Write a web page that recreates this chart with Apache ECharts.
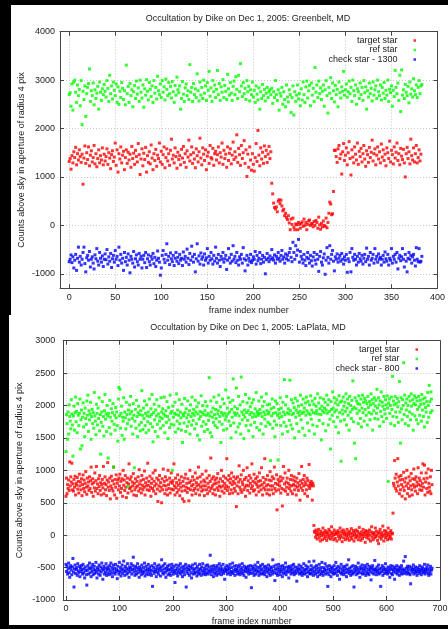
<!DOCTYPE html>
<html lang="en">
  <head>
    <meta charset="utf-8" />
    <title>Occultation by Dike</title>
    <script src="https://cdn.jsdelivr.net/npm/echarts@6/dist/echarts.min.js"></script>
    <style>
      html, body { margin: 0; padding: 0; background: #000; }
      body { width: 448px; height: 629px; position: relative; overflow: hidden; }
      .panel { position: absolute; background: #fff; }
      #top { left: 11px; top: 5px; width: 437px; height: 310px; }
      #bottom { left: 9px; top: 315px; width: 439px; height: 310px; }
    </style>
  </head>
  <body>
    <div id="top" class="panel"></div>
    <div id="bottom" class="panel"></div>
    <script>
      // ---- Greenbelt (frames 0..383) ----
      var target1 = [
        1320,1380,1160,1440,1290,1520,1400,1610,1250,1480,1350,1560,1420,1300,1470,850,1390,1640,1280,1500,
        1360,1620,1230,1450,1540,1310,1400,1650,1270,1480,1210,1380,1560,1290,1440,1350,1600,1250,1470,1330,
        1420,1580,1260,1500,1390,1170,1460,1540,1320,1410,1700,1240,1560,1100,1480,1370,1620,1290,1450,1530,
        1150,1400,1560,1280,1510,1350,1470,1200,1630,1380,1490,1260,1550,1420,1310,1690,1460,1050,1370,1580,
        1230,1490,1360,1610,1100,1440,1300,1520,1270,1660,1390,1150,1480,1340,1570,1220,1450,1380,1700,1310,
        1530,1260,1460,1620,1190,1400,1580,1330,1480,1240,1550,1780,1370,1450,1290,1600,1420,1180,1510,1360,
        1440,1250,1570,1390,1630,1300,1480,1200,1540,1410,1760,1330,1460,1620,1280,1500,1370,1190,1580,1440,
        1310,1520,1800,1390,1250,1600,1470,1340,1560,1150,1430,1510,1280,1650,1400,1370,1590,1240,1480,1530,
        1350,1460,1620,1290,1500,1410,1700,1260,1550,1380,1470,1200,1620,1340,1490,1580,1270,1450,1720,1360,
        1520,1410,1870,1300,1590,1460,1240,1650,1380,1500,1750,1280,1560,1010,1470,1200,1620,1350,1140,1480,
        1260,1120,1400,1690,1320,1960,1450,1230,1600,1370,1510,1280,1640,1420,1550,1300,1470,1630,1380,1520,
        870,650,460,370,340,380,280,500,530,450,520,400,300,330,200,250,160,120,200,50,
        -90,130,20,150,-40,-90,30,10,-90,60,20,-60,40,70,-20,130,0,60,-90,20,
        90,110,0,30,40,-30,80,0,100,60,-60,170,10,-80,40,-30,90,0,-20,150,
        -50,60,250,480,440,220,240,700,1550,
        1550,1420,1300,1580,1650,1380,1470,1060,1520,1690,1340,1450,1600,1250,1500,1730,1380,1040,1560,1410,
        1290,1620,1470,1350,1700,1260,1530,1420,1590,1310,1480,1650,1370,1220,1540,1460,1300,1610,1400,1510,
        1760,1330,1480,1580,1250,1450,1620,1370,1520,1290,1680,1410,1560,1340,1470,1230,1600,1500,1380,1740,
        1310,1550,1460,1270,1620,1390,1510,1700,1340,1480,1250,1590,1430,1360,1570,1290,1000,1480,1610,1380,
        1520,1270,1780,1440,1350,1600,1310,1480,1650,1290,1400,1560,1330,1470
      ];
      var ref1 = [
        2700,2740,2460,2920,2380,2960,3000,2750,2540,2900,2680,2810,2470,2990,2080,2770,2600,2880,2250,2720,
        2850,2930,3230,2560,2780,2680,2940,2490,2800,2620,2730,2870,2400,2960,2750,2580,2820,2700,2910,2770,
        2650,2990,2830,2560,3100,2720,2880,2610,2960,2790,2680,2920,2540,2860,2500,2770,2640,2950,2830,2600,
        2780,2490,3310,2720,2870,2540,2930,2680,2800,2450,2760,2890,2620,2980,2710,2840,2560,3000,2750,2630,
        2900,2440,2820,2690,3010,2770,2590,2950,2810,2660,2880,2540,2990,2730,2850,2610,3080,2780,2700,2920,
        2640,2990,2750,2860,2590,3020,2810,2680,2950,2720,2870,2630,2970,2760,2540,2890,2690,3060,2800,2740,
        2880,2400,2620,2970,2710,2560,2840,2920,2680,2780,2600,3320,2750,2850,2560,2930,2700,2820,2640,3130,
        2780,2570,2960,2690,2850,2620,3000,2730,2880,2580,2950,2790,3180,2670,2840,2560,2990,2760,2900,2640,
        2810,3200,2700,2930,2580,2860,2750,3010,2640,2890,2770,2600,3120,2820,2690,2950,2730,2580,2870,2980,
        2700,3070,2810,2620,3100,2760,3340,2880,2660,2950,2720,2830,2600,2990,2760,2870,2570,2800,2700,2960,
        2650,2790,2540,2880,2710,2590,2840,2400,2760,2620,2910,2680,2810,2570,2730,2850,2640,2760,2800,2700,
        2830,2520,2760,2640,2990,2700,2580,2800,2380,2730,2670,2850,2500,2760,2600,2450,2900,2650,2550,2800,
        2700,2330,2640,2880,2280,2760,2560,2690,2900,2610,2720,2470,2820,2590,2960,2700,2540,2860,2980,2630,
        2780,2890,2470,2940,2690,2830,2560,3260,2750,2900,2640,2980,2720,2840,2600,2770,2900,2460,2800,2990,
        2680,2320,2850,2730,3050,2620,2940,2780,2550,2890,2700,2810,2450,2960,2740,2630,2860,2770,3180,2690,
        2800,2920,2650,2760,2980,2720,2850,2560,3000,2780,2680,2900,2500,2820,2760,2620,2940,2700,2850,2580,
        2990,2740,2860,2400,2780,2650,2940,2720,2830,2570,2960,2690,2800,2880,2620,3000,2760,2680,2900,2590,
        2850,2730,2950,2620,2790,2690,3000,2560,2810,2740,2880,2460,2790,2660,3200,2850,2720,2940,2580,3100,
        2350,3210,2690,2800,2620,2910,2750,2680,2870,2530,2960,2710,2820,2650,3030,2780,2700,2900,2640,2850,
        2990,2720,2880,2910
      ];
      var check1 = [
        -750,-700,-610,-770,-650,-880,-720,-600,-930,-680,-450,-760,-640,-820,-700,-560,-450,-790,-960,-670,
        -620,-720,-540,-860,-700,-650,-780,-900,-610,-690,-480,-740,-820,-560,-680,-760,-630,-850,-700,-590,
        -710,-500,-800,-650,-740,-580,-870,-690,-620,-760,-520,-700,-640,-830,-450,-720,-600,-780,-680,-930,
        -560,-750,-660,-820,-590,-720,-980,-640,-700,-780,-540,-860,-690,-610,-750,-820,-580,-700,-640,-880,
        -700,-620,-770,-560,-870,-690,-610,-750,-820,-640,-700,-580,-790,-660,-850,-720,-530,-680,-760,-1030,
        -880,-620,-520,-700,-770,-600,-380,-720,-640,-810,-570,-690,-750,-620,-830,-680,-560,-740,-660,-790,
        -600,-720,-680,-830,-550,-700,-640,-760,-490,-680,-810,-580,-720,-430,-650,-760,-600,-960,-690,-380,
        -740,-630,-800,-570,-700,-650,-820,-590,-720,-670,-480,-780,-640,-720,-560,-690,-800,-620,-740,-450,
        -680,-780,-600,-720,-850,-640,-700,-560,-760,-690,-620,-910,-720,-480,-670,-780,-600,-740,-420,-700,
        -640,-770,-560,-720,-820,-650,-700,-600,-780,-460,-690,-940,-720,-620,-820,-680,-740,-600,-770,-720,
        -650,-700,-540,-800,-620,-730,-680,-560,-790,-700,-620,-760,-660,-1000,-710,-580,-680,-750,-630,-700,
        -500,-670,-720,-610,-780,-640,-700,-560,-680,-740,-620,-520,-700,-650,-780,-590,-690,-620,-720,-560,
        -480,-660,-750,-350,-560,-700,-420,-620,-510,-290,-760,-540,-640,-700,-780,-600,-720,-830,-660,-560,
        -690,-780,-620,-730,-840,-650,-560,-720,-800,-600,-700,-950,-640,-540,-760,-820,-670,-590,-1010,-720,
        -460,-660,-780,-420,-700,-600,-520,-740,-940,-650,-700,-590,-760,-680,-620,-740,-580,-700,-800,-650,
        -720,-600,-970,-690,-750,-560,-960,-480,-660,-720,-600,-700,-820,-640,-760,-580,-690,-740,-620,-800,
        -680,-600,-750,-470,-700,-640,-820,-560,-720,-680,-600,-780,-480,-700,-640,-760,-590,-700,-660,-820,
        -700,-620,-760,-550,-690,-740,-600,-820,-680,-720,-480,-780,-640,-700,-600,-760,-560,-900,-680,-620,
        -730,-650,-480,-700,-860,-600,-740,-960,-680,-560,-700,-620,-780,-650,-600,-720,-840,-460,-700,-750,
        -480,-760,-740,-640
      ];
      var xTicks1 = [0, 50, 100, 150, 200, 250, 300, 350, 400];
      var yTicks1 = [-1000, 0, 1000, 2000, 3000, 4000];

      // ---- LaPlata (frames 0..685) ----
      var target2 = [
        600,880,640,780,720,850,690,1130,760,900,820,1110,700,790,680,860,740,910,620,800,
        770,890,710,830,650,940,760,820,700,870,610,780,930,720,850,670,800,980,740,630,
        880,760,820,690,900,720,840,1050,660,790,870,600,810,730,960,680,840,1060,720,790,
        640,870,750,920,690,810,620,780,860,730,1060,640,800,900,700,780,610,850,1120,740,
        820,690,880,560,760,910,720,840,680,1050,790,620,860,740,930,570,800,850,700,880,
        760,940,660,830,720,870,600,1000,770,850,690,920,740,580,810,880,650,790,1100,720,
        860,740,900,680,820,760,950,620,800,700,870,740,610,830,760,900,680,1010,790,720,
        840,650,920,770,700,860,740,990,620,810,760,880,700,1110,770,830,690,910,740,600,
        800,870,720,960,680,830,760,1000,640,790,880,710,520,850,760,920,680,810,740,500,
        870,700,1020,770,830,640,900,760,700,850,620,1000,780,720,880,650,820,960,710,800,
        840,700,1100,760,620,880,730,810,660,930,770,700,850,610,800,740,900,680,560,830,
        760,520,880,690,940,740,800,660,870,720,530,810,1000,700,840,760,620,900,780,690,
        850,720,960,640,810,760,880,700,1050,780,620,900,740,820,680,940,760,700,850,610,
        820,760,990,700,880,640,800,740,920,680,830,1190,720,870,760,640,900,790,700,850,
        620,800,880,730,950,690,820,760,600,870,740,1000,680,830,760,910,650,800,720,880,
        760,1180,690,850,740,920,640,810,870,700,960,780,650,830,900,720,800,680,870,440,
        760,900,640,820,1070,740,860,700,930,660,820,780,1000,700,860,740,600,890,770,1040,
        690,840,760,920,650,800,880,720,1100,760,830,680,940,700,810,870,620,780,900,740,
        830,670,960,760,840,700,1040,780,620,890,730,810,1180,700,860,760,640,920,780,700,
        850,620,980,760,840,700,900,760,640,870,1050,720,800,680,930,390,780,860,700,820,
        760,900,650,840,720,450,880,1060,700,790,960,680,820,740,880,630,800,1000,720,770,
        860,680,920,760,640,850,780,900,700,830,760,620,880,740,810,690,950,770,540,840,
        730,1060,800,690,860,760,920,640,820,780,700,880,600,840,760,1090,720,800,760,830,
        780,540,800,760,150,60,
        40,-30,80,10,-60,50,0,90,-40,20,-90,60,-10,30,-70,110,0,40,-50,70,
        -20,30,-80,50,10,-40,90,-10,60,-60,20,130,-30,40,0,-70,80,10,-50,50,
        30,-90,20,70,-20,40,-60,110,0,-30,60,-100,30,80,-40,10,50,-70,20,-10,
        90,-50,40,0,-80,60,20,-30,100,-60,30,-10,70,-90,10,50,-40,80,0,-20,
        60,-70,30,120,-30,10,-80,50,0,-50,90,20,-20,40,-110,70,10,-40,60,-10,
        30,-60,80,0,-90,50,130,-30,20,-70,40,10,-40,110,-20,60,0,-80,30,-130,
        50,-30,90,10,-60,40,-20,140,0,-90,70,20,-40,60,-10,30,-70,110,0,-50,
        40,-20,70,-60,20,30,340,
        800,760,1150,880,720,940,680,820,1180,760,900,640,850,700,920,780,600,860,740,970,
        690,820,560,880,760,1000,640,800,720,900,600,840,760,950,700,620,870,780,1020,740,
        860,680,900,760,820,640,1040,780,880,700,840,760,960,690,800,1100,740,870,1080,620,
        820,960,720,880,660,1020,800,740,680,900,640,1000,780
      ];
      var ref2 = [
        1290,1860,1720,1480,1900,1560,2010,1830,1760,1640,2090,1870,1700,1220,1840,1990,1620,1890,2130,1750,
        1910,1580,2030,1850,1690,1880,2100,1330,1780,1930,1380,1820,2040,1670,1880,1520,1960,1800,1710,2070,
        1850,2160,1600,1920,1780,1870,2050,1480,1830,1940,1720,1890,1650,2200,1840,1760,1550,2020,1880,1700,
        1960,1800,2120,1610,1860,1250,1740,1900,2060,1680,1830,1530,1920,2170,1790,1870,1600,2000,1840,1190,
        1880,1660,2080,1820,1560,1950,1760,1890,2030,1050,1710,1850,1620,1970,1810,1900,1690,1450,2100,2280,
        1840,2250,1650,1880,1990,1540,1820,1760,2120,1480,1900,1810,1640,2050,1860,1720,750,1930,1780,2010,
        1870,2140,1680,1910,1800,1560,2030,1850,1040,1760,1940,1650,2080,1830,1520,1890,1990,1700,1860,1610,
        1920,1740,2230,1850,1630,1960,1800,2070,1690,1880,1580,2010,1840,1750,1900,1620,2100,1830,1720,1950,
        1860,2170,1670,1440,1890,2020,1780,1600,1930,1840,2090,1710,1520,1870,1990,1760,1820,1650,2120,1900,
        1800,1950,1690,1870,2130,1580,1840,1920,1740,2060,1830,1490,1970,1780,1660,2160,1880,1710,1910,1000,
        1990,1820,1700,1880,2050,1590,1860,2180,1760,1930,1640,1850,2090,1720,1900,1810,1620,2020,1430,1870,
        1840,1730,2110,1890,1600,1950,1810,1680,2070,1860,1750,1920,1560,2010,1830,1700,2130,1880,1770,1940,
        1850,1640,2080,1900,1720,1980,1540,1870,2040,1790,1470,1910,1830,2150,1680,1890,2000,1750,1860,1600,
        1920,2060,1710,1850,1990,1630,1880,1770,2430,1840,1580,2070,1900,1520,1820,1960,1740,2130,1860,1690,
        1940,1800,2050,1660,1870,1920,2160,1750,1830,1980,1430,1890,1710,2100,1850,1620,2030,1880,1780,2240,
        1830,1640,1960,1870,2120,1760,1900,2050,1690,1500,1940,1820,2080,2410,1730,1890,1980,1850,1590,2270,
        1880,1950,1670,2140,1840,1720,2010,1560,2440,1900,1780,2060,1860,1490,1930,1820,2170,1690,1890,2040,
        1770,1920,1610,2110,1860,1980,1700,1890,2040,1820,1520,2090,1870,1740,1950,1830,2200,1660,1910,1880,
        1850,2070,1620,1940,1880,1720,2130,1830,1990,1560,1900,2060,1790,1860,1680,2180,1920,2010,1740,1870,
        1900,2020,1710,1150,1950,1840,2100,1650,1880,1970,1760,1520,2070,1890,1700,2030,1850,1160,1940,1810,
        1880,2120,1690,1960,1830,1560,2050,1900,1740,2400,1860,2010,1680,2140,1890,1600,1950,1870,1770,2390,
        1920,1700,2090,1860,1640,2040,1880,1970,1500,2110,1820,1930,1720,2070,1890,1990,1600,1850,1910,2160,
        1780,2010,1880,1650,2100,1900,1960,1540,2040,1850,2130,1920,1730,2060,1880,1610,2010,1860,2150,1790,
        1930,2070,1700,1890,2020,1560,2110,1880,1990,1920,1680,2180,1870,2040,1770,1950,2120,1860,1470,1990,
        1920,1720,2100,1890,1960,2050,1610,1930,2160,1880,2010,1700,2090,1910,1790,1330,2060,1940,1850,2210,
        1960,1750,2120,1900,2040,1670,1930,2090,1820,2010,1580,2150,1890,2050,1760,1140,2070,1930,1870,2130,
        1990,1780,2050,1910,2180,1700,1960,2100,1850,2030,1620,2140,1900,2000,1800,2080,1940,2380,1750,1970,
        1420,2120,1180,1950,2070,1880,2030,1720,2150,1920,2020,1800,2100,1670,1960,2160,1890,2050,1760,2110,
        1940,2070,1850,2030,1700,2140,1970,1890,2060,1780,2010,2180,1870,2090,1620,2030,1920,2120,1800,1990,
        2080,1880,2250,1960,1790,2120,2010,1680,2070,1910,2210,1830,2050,1990,1750,2140,1940,1870,2090,2010,
        1800,2150,1960,830,2040,2100,1880,2000,1720,2130,1940,2450,1830,2070,2010,1690,2140,1900,2030,1820,
        2110,1980,1740,2060,2370,1900,1420,2120,1950,1780,2090,2000,2660,1860,2160,1720,2040,1930,2100,1830,
        2000,1690,2140,1900,2070,1780,2180,1990,1870,2090,1620,2030,2150,1840,2010,2120,1780,2070,1940,1720,
        2140,1980,1850,2080,2020,1760,2170,1930,2100,1830,2030,1670,2120,1970,1900,2060,1740,2200,2000,1820,
        2310,2060,1890,2210,2100,1920
      ];
      var check2 = [
        -450,-560,-480,-600,-520,-430,-580,-650,-500,-470,-540,-610,-490,-360,-570,-800,-520,-460,-590,-530,
        -500,-620,-440,-550,-580,-480,-640,-510,-560,-470,-530,-600,-450,-580,-520,-660,-490,-550,-610,-770,
        -540,-470,-600,-510,-430,-580,-520,-640,-490,-560,-450,-610,-530,-480,-590,-540,-420,-570,-660,-500,
        -530,-600,-460,-550,-620,-490,-570,-430,-520,-680,-540,-480,-600,-510,-570,-440,-620,-530,-490,-580,
        -520,-610,-470,-550,-430,-590,-500,-640,-540,-460,-580,-510,-600,-450,-560,-530,-670,-480,-550,-600,
        -420,-570,-500,-630,-540,-460,-590,-520,-400,-560,-620,-480,-550,-510,-600,-440,-580,-530,-650,-490,
        -560,-510,-440,-600,-530,-470,-340,-570,-520,-620,-480,-550,-600,-500,-440,-580,-530,-650,-490,-560,
        -520,-610,-460,-550,-590,-500,-570,-430,-630,-540,-480,-600,-520,-560,-450,-610,-530,-490,-580,-540,
        -620,-470,-790,-550,-500,-590,-440,-560,-530,-640,-480,-570,-520,-600,-460,-550,-510,-630,-490,-380,
        -540,-580,-470,-600,-520,-440,-570,-650,-510,-550,-480,-610,-530,-460,-590,-540,-620,-500,-450,-560,
        -520,-600,-480,-570,-730,-540,-460,-590,-510,-630,-550,-470,-580,-520,-440,-600,-560,-490,-640,-530,
        -570,-480,-610,-520,-450,-800,-560,-500,-590,-530,-470,-620,-540,-490,-580,-660,-510,-460,-600,-550,
        -520,-590,-440,-570,-510,-630,-480,-560,-600,-530,-450,-580,-520,-620,-490,-550,-440,-600,-570,-510,
        -540,-610,-470,-580,-520,-460,-600,-550,-490,-570,-310,-530,-610,-480,-560,-520,-640,-470,-590,-540,
        -500,-580,-620,-470,-550,-510,-600,-440,-570,-530,-480,-610,-520,-560,-450,-590,-540,-680,-500,-560,
        -530,-470,-600,-540,-490,-580,-520,-450,-610,-560,-500,-570,-430,-590,-540,-480,-620,-530,-560,-470,
        -520,-600,-550,-490,-580,-460,-610,-530,-570,-500,-440,-590,-540,-620,-480,-560,-520,-650,-500,-570,
        -540,-480,-600,-520,-560,-470,-590,-810,-530,-480,-580,-510,-620,-550,-460,-600,-530,-490,-570,-420,
        -550,-620,-500,-580,-470,-540,-600,-520,-450,-590,-560,-490,-610,-530,-480,-570,-640,-510,-550,-460,
        -590,-530,-620,-490,-560,-510,-600,-380,-550,-480,-580,-700,-520,-460,-590,-540,-620,-500,-450,-570,
        -530,-610,-480,-560,-520,-640,-470,-590,-540,-500,-580,-430,-610,-550,-490,-570,-520,-660,-480,-560,
        -510,-600,-540,-470,-580,-520,-450,-610,-560,-490,-590,-540,-710,-500,-570,-530,-460,-600,-520,-580,
        -480,-560,-620,-510,-590,-440,-550,-600,-530,-470,-580,-520,-640,-490,-560,-410,-590,-530,-600,-470,
        -540,-580,-510,-620,-400,-560,-490,-600,-530,-470,-580,-640,-510,-560,-450,-610,-540,-500,-590,-420,
        -560,-620,-500,-570,-530,-440,-600,-540,-480,-580,-790,-520,-610,-470,-560,-530,-640,-490,-580,-510,
        -550,-600,-470,-590,-530,-420,-570,-510,-620,-480,-560,-540,-680,-500,-580,-450,-600,-530,-570,-490,
        -610,-540,-480,-580,-520,-640,-460,-570,-530,-380,-590,-510,-560,-620,-490,-550,-600,-470,-580,-800,
        -520,-560,-480,-610,-540,-500,-590,-430,-570,-530,-650,-490,-580,-520,-460,-600,-550,-510,-590,-470,
        -540,-620,-500,-570,-450,-590,-530,-610,-480,-560,-520,-690,-500,-580,-470,-540,-600,-520,-390,-560,
        -530,-610,-490,-570,-540,-460,-600,-520,-580,-790,-510,-560,-470,-620,-540,-500,-590,-530,-440,-580,
        -560,-520,-600,-490,-570,-540,-650,-510,-470,-590,-530,-610,-480,-560,-520,-680,-500,-580,-540,-470,
        -600,-530,-560,-490,-620,-540,-510,-580,-470,-600,-550,-520,-400,-590,-540,-330,-570,-510,-600,-480,
        -560,-520,-590,-480,-610,-750,-540,-500,-570,-530,-460,-600,-520,-560,-490,-580,-540,-620,-500,-560,
        -530,-590,-470,-560,-520,-610,-540,-490,-580,-520,-560,-450,-600,-530,-570,-500,-540,-460,-590,-620,
        -520,-560,-480,-600,-540,-510
      ];
      var xTicks2 = [0, 100, 200, 300, 400, 500, 600, 700];
      var yTicks2 = [-1000, -500, 0, 500, 1000, 1500, 2000, 2500, 3000];

      var FONT = '"Liberation Sans", Arial, sans-serif';
      var TEXT = '#222';
      var FRAME = '#444';

      function pairs(values) {
        return values.map(function (v, i) { return [i, v] })
      }

      function axisPair(kind, range, ticks, opts) {
        var main = {
          type: 'value', min: range[0], max: range[1],
          position: kind === 'x' ? 'bottom' : 'left',
          axisLine: { onZero: false, lineStyle: { color: FRAME, width: 1 } },
          axisTick: { inside: true, length: 4, customValues: ticks, lineStyle: { color: FRAME } },
          axisLabel: {
            customValues: ticks, margin: opts.margin,
            formatter: function (v) { return String(v) },
            fontFamily: FONT, fontSize: 9, color: TEXT
          },
          splitLine: { show: true, lineStyle: { color: '#c8c8c8', type: [1, 2], width: 1 } },
          name: opts.name, nameLocation: 'middle', nameGap: opts.nameGap, nameMoveOverlap: false,
          nameTextStyle: { fontFamily: FONT, fontSize: 9, color: TEXT }
        }
        // gnuplot mirrors the ticks on the opposite border
        var mirror = {
          type: 'value', min: range[0], max: range[1],
          position: kind === 'x' ? 'top' : 'right',
          axisLine: { onZero: false, lineStyle: { color: FRAME, width: 1 } },
          axisTick: { inside: true, length: 4, customValues: ticks, lineStyle: { color: FRAME } },
          axisLabel: { show: false },
          splitLine: { show: false }
        }
        return [main, mirror]
      }

      function makeChart(id, cfg) {
        var chart = echarts.init(document.getElementById(id), null, { renderer: 'canvas' })
        var names = ['target star', 'ref star', cfg.checkName]
        var colors = ['#ff0000', '#00ff00', '#0000ff']
        var values = [cfg.target, cfg.ref, cfg.check]
        var grid = Object.assign({ outerBoundsMode: 'none', containLabel: false }, cfg.grid)
        chart.setOption({
          animation: false,
          backgroundColor: '#fff',
          graphic: [{
            type: 'text', x: cfg.titleX, y: cfg.titleY,
            style: { text: cfg.title, fontFamily: FONT, fontSize: 9, fill: TEXT, textAlign: 'center', textVerticalAlign: 'middle' }
          }],
          legend: {
            data: names, orient: 'vertical', align: 'right',
            right: cfg.legendRight, top: cfg.legendTop, padding: 0,
            itemGap: 0.5, itemWidth: 2.5, itemHeight: 2.5, icon: 'rect',
            selectedMode: false,
            textStyle: { fontFamily: FONT, fontSize: 9, color: TEXT, lineHeight: 8, padding: [0, 11, 0, 0] }
          },
          grid: grid,
          xAxis: axisPair('x', cfg.xRange, cfg.xTicks, { name: 'frame index number', nameGap: cfg.xNameGap, margin: cfg.xMargin }),
          yAxis: axisPair('y', cfg.yRange, cfg.yTicks, { name: 'Counts above sky in aperture of radius 4 pix', nameGap: cfg.yNameGap, margin: cfg.yMargin }),
          series: values.map(function (v, k) {
            return {
              name: names[k], type: 'scatter', xAxisIndex: 0, yAxisIndex: 0,
              symbol: 'rect', symbolSize: 3,
              itemStyle: { color: colors[k] },
              data: pairs(v)
            }
          })
        })
        return chart
      }

      makeChart('top', {
        title: 'Occultation by Dike on Dec 1, 2005: Greenbelt, MD',
        titleX: 237, titleY: 14,
        target: target1, ref: ref1, check: check1, checkName: 'check star - 1300',
        grid: { left: 49, top: 26.7, width: 377.5, height: 256.6 },
        xRange: [-10, 400], xTicks: xTicks1,
        yRange: [-1300, 4000], yTicks: yTicks1,
        xNameGap: 18, yNameGap: 34, xMargin: 5, yMargin: 5,
        legendRight: 32, legendTop: 31
      })

      makeChart('bottom', {
        title: 'Occultation by Dike on Dec 1, 2005: LaPlata, MD',
        titleX: 239, titleY: 12.7,
        target: target2, ref: ref2, check: check2, checkName: 'check star - 800',
        grid: { left: 54.3, top: 25.7, width: 376.7, height: 259.3 },
        xRange: [-5, 700], xTicks: xTicks2,
        yRange: [-1000, 3000], yTicks: yTicks2,
        xNameGap: 17, yNameGap: 39, xMargin: 4, yMargin: 8,
        legendRight: 30, legendTop: 30
      })
    </script>
  </body>
</html>
